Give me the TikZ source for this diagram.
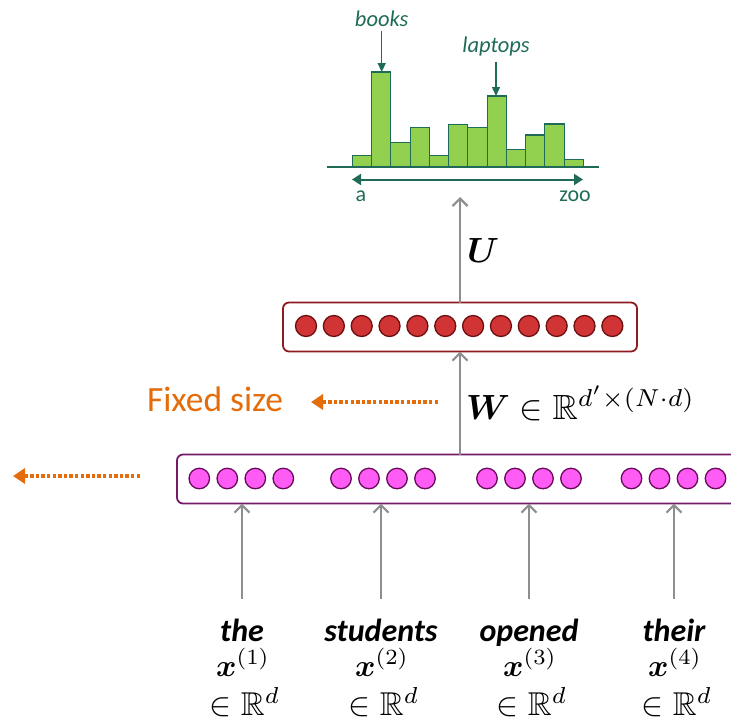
\documentclass[tikz,border=0pt]{standalone}
\usepackage{amsmath,amssymb,bm}
\usepackage[no-math]{fontspec}
\setmainfont{Carlito}
\usetikzlibrary{arrows.meta}

\definecolor{histteal}{HTML}{1F6B57}
\definecolor{bargreen}{HTML}{92D050}
\definecolor{unitred}{HTML}{D03434}
\definecolor{unitredline}{HTML}{6E0F12}
\definecolor{boxred}{HTML}{8E1B1F}
\definecolor{unitpink}{HTML}{FF5CF5}
\definecolor{unitpinkline}{HTML}{6A0A5C}
\definecolor{boxpurple}{HTML}{741A68}
\definecolor{arrowgray}{HTML}{8E8E8E}
\definecolor{fixorange}{HTML}{E46C0A}

% math set at 10pt and enlarged
\newcommand{\bigmath}[1]{\scalebox{3.5}{$#1$}}
\newcommand{\vecmath}[1]{\scalebox{3.1}{$#1$}}
\newcommand{\inmath}[1]{\scalebox{3.3}{$#1$}}

\begin{document}
\begin{tikzpicture}[x=1pt,y=-1pt,
  every node/.style={inner sep=0pt,outer sep=0pt},
  bar/.style={fill=bargreen,draw=histteal,line width=1.1pt},
  histline/.style={draw=histteal,line width=1.8pt},
  pointer/.style={draw=histteal,line width=1.4pt,-{Triangle[length=9pt,width=8pt]}},
  vocabspan/.style={draw=histteal,line width=2pt,{Triangle[length=9pt,width=11pt]}-{Triangle[length=9pt,width=11pt]}},
  histtext/.style={text=histteal,font=\fontsize{22}{22}\selectfont},
  layerred/.style={draw=boxred,line width=1.8pt,rounded corners=6pt,fill=white},
  layerpurple/.style={draw=boxpurple,line width=1.8pt,rounded corners=6pt,fill=white},
  redunit/.style={circle,minimum size=21pt,fill=unitred,draw=unitredline,line width=1.3pt},
  pinkunit/.style={circle,minimum size=20.5pt,fill=unitpink,draw=unitpinkline,line width=1.3pt},
  feed/.style={draw=arrowgray,line width=2.4pt,-{Straight Barb[length=7.5pt,width=15pt,line width=2.2pt]}},
  dotarrow/.style={draw=fixorange,line width=3.6pt,dash pattern=on 3.4pt off 2.2pt,-{Triangle[length=12pt,width=15pt]}},
  word/.style={font=\fontsize{32}{32}\selectfont\bfseries\itshape}]
\useasboundingbox (0,0) rectangle (731,718);
\clip (0,0) rectangle (731,718);

% output distribution over the vocabulary
\foreach \h [count=\i from 0] in {155.3,72,142.7,127.7,155.3,124.7,127.7,96,149.3,135,124,159.7}
  \draw[bar] ({352.3+19.25*\i},166.7) rectangle ({352.3+19.25*(\i+1)},\h);
\draw[histline] (327,166.7) -- (599,166.7);
\coordinate (va) at (352,179.5);
\coordinate (vz) at (583,179.5);
\draw[vocabspan] (va) -- (vz);
\node[histtext,anchor=base] (la) at (361,201.5) {a};
\node[histtext,anchor=base] (lz) at (575,201.5) {zoo};

\node[histtext,anchor=base,font=\fontsize{22.5}{22.5}\selectfont\itshape] (books) at (381.7,26) {books};
\node[histtext,anchor=base,font=\fontsize{22.5}{22.5}\selectfont\itshape] (laptops) at (496,52) {laptops};
\coordinate (booksbar) at (381.7,72);
\coordinate (laptopsbar) at (496,96);
\draw[pointer] ([yshift=-5pt]books.south) -- (booksbar);
\draw[pointer] ([yshift=-6pt]laptops.south) -- (laptopsbar);

% hidden layer
\node[layerred,minimum width=354pt,minimum height=49pt] (hidden) at (460,327) {};
\foreach \i in {0,...,11}
  \node[redunit] (h\i) at ({306+27.85*\i},326) {};
\coordinate (outtip) at (460,197);
\draw[feed] (hidden.north) -- (outtip);
\node[anchor=base west] (ulabel) at (467,262) {\bigmath{\bm{U}}};

% concatenated embeddings
\node[layerpurple,minimum width=583pt,minimum height=49pt] (concat) at (468.5,479) {};
\foreach \g/\cx in {1/241.3,2/383,3/529,4/673.5}
  \foreach \k in {0,...,3}
    \node[pinkunit] (e\g\k) at ({\cx-42+28*\k},478.5) {};
\draw[feed] (hidden.south |- concat.north) -- (hidden.south);
\node[anchor=base west] (wlabel) at (466,419) {\bigmath{\bm{W}\in\mathbb{R}^{d'\times(N\cdot d)}}};

% fixed-size window arrows
\node[anchor=base west,text=fixorange,font=\fontsize{35.5}{35.5}\selectfont] (fixed) at (147,411.7) {Fixed size};
\coordinate (fixtail) at (438,402);
\coordinate (fixtip) at (311,402);
\draw[dotarrow] (fixtail) -- (fixtip);
\coordinate (lefttail) at (140,476);
\coordinate (lefttip) at (13,476);
\draw[dotarrow] (lefttail) -- (lefttip);

% input words
\foreach \n/\cx/\w in {1/242/the,2/381/students,3/529/opened,4/674/their}{
  \node[word,anchor=base] (w\n) at (\cx,641) {\w};
  \node[anchor=base] (x\n) at (\cx+1,676) {\vecmath{\bm{x}^{(\n)}}};
  \node[anchor=base] (r\n) at (\cx+3,715) {\inmath{\in\mathbb{R}^d}};
  \draw[feed] ([yshift=20pt]w\n.north) -- (w\n.north |- concat.south);
}
\end{tikzpicture}
\end{document}
